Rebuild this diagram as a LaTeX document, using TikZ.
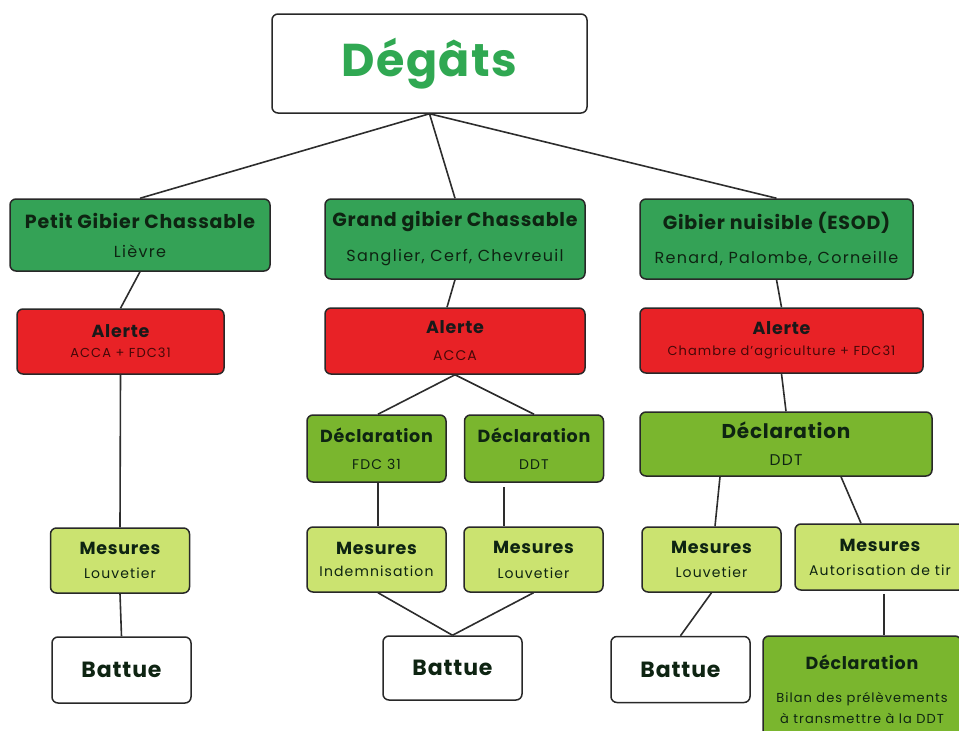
\documentclass[tikz,border=0pt]{standalone}
\usepackage{fontspec}
\setmainfont{Poppins}
\usetikzlibrary{positioning}
\definecolor{colCat}{RGB}{52,162,86}
\definecolor{colAlert}{RGB}{232,34,38}
\definecolor{colDecl}{RGB}{122,182,46}
\definecolor{colMes}{RGB}{203,227,112}
\definecolor{colBorder}{RGB}{40,40,40}
\definecolor{colLink}{RGB}{45,45,45}
\definecolor{colTitle}{RGB}{48,168,82}
\definecolor{colDark}{RGB}{14,36,18}
\definecolor{colRedText}{RGB}{70,8,8}
% fonts: bold titles, spaced sub lines
\newcommand{\catTitle}{\fontsize{19}{22}\selectfont\bfseries\addfontfeature{LetterSpace=4}}
\newcommand{\catSub}{\fontsize{16}{31}\selectfont\addfontfeature{LetterSpace=8}}
\newcommand{\boxTitle}{\fontsize{17.5}{20}\selectfont\bfseries\addfontfeature{LetterSpace=4}}
\newcommand{\boxSub}{\fontsize{14}{24}\selectfont\addfontfeature{LetterSpace=8}}
\newcommand{\smallSub}{\fontsize{13}{21}\selectfont\addfontfeature{LetterSpace=8}}
\newcommand{\battueFont}{\fontsize{22}{26}\selectfont\bfseries\addfontfeature{LetterSpace=4}}
\tikzset{
  box/.style={
    rectangle, rounded corners=6pt,
    draw=colBorder, line width=1.5pt,
    align=center, inner sep=2pt, text=colDark
  },
  catBox/.style={
    box, fill=colCat, font=\catSub,
    minimum width=260pt, minimum height=80pt
  },
  alertBox/.style={
    box, fill=colAlert, text=colRedText, font=\smallSub,
    minimum width=260pt, minimum height=66pt
  },
  declBox/.style={
    box, fill=colDecl, font=\boxSub,
    minimum width=139pt, minimum height=67pt
  },
  mesBox/.style={
    box, fill=colMes, font=\boxSub,
    minimum width=139pt, minimum height=65pt
  },
  endBox/.style={
    box, fill=white, font=\battueFont,
    minimum width=139pt, minimum height=66pt
  },
  link/.style={
    draw=colLink, line width=1.6pt
  }
}

\begin{document}
\begin{tikzpicture}[x=1pt, y=-1pt]
  \useasboundingbox (0,0) rectangle (959,731);

  % top
  \node[box, fill=white, minimum width=315pt, minimum height=99pt] (degats) at (429.5,63.5)
    {\fontsize{46}{50}\selectfont\bfseries\addfontfeature{LetterSpace=3}\color{colTitle}Dégâts};

  % categories
  \node[catBox, minimum height=72pt] (petit) at (140,235)
    {{\catTitle Petit Gibier Chassable}\\[-2pt]Lièvre};
  \node[catBox] (grand) at (455,239)
    {{\catTitle Grand gibier Chassable}\\[4pt]Sanglier, Cerf, Chevreuil};
  \node[catBox, minimum width=273pt] (nuisible) at (776.5,239)
    {{\catTitle Gibier nuisible (ESOD)}\\[3pt]Renard, Palombe, Corneille};

  % alerts
  \node[alertBox, minimum width=207pt, minimum height=65pt] (alerteA) at (120.5,341.5)
    {{\boxTitle\color{black!90} Alerte}\\[-1pt]ACCA + FDC31};
  \node[alertBox] (alerteB) at (455,341)
    {{\boxTitle\color{black!90} Alerte}\\[6pt]{\boxSub ACCA}};
  \node[alertBox, minimum width=283pt, minimum height=65pt] (alerteC) at (781.5,340.5)
    {{\boxTitle\color{black!90} Alerte}\\Chambre d'agriculture + FDC31};

  % declarations
  \node[declBox] (declFdc) at (376.5,448.5)
    {{\boxTitle Déclaration}\\[3pt]FDC 31};
  \node[declBox] (declDdt) at (534,448.5)
    {{\boxTitle Déclaration}\\[3pt]DDT};
  \node[declBox, minimum width=292pt, minimum height=64pt] (declEsod) at (786,444)
    {{\fontsize{20}{23}\selectfont\bfseries\addfontfeature{LetterSpace=4}Déclaration}\\[3pt]{\fontsize{15.5}{18}\selectfont DDT}};

  % measures
  \node[mesBox] (mesLouvA) at (120,560.5)
    {{\boxTitle Mesures}\\[0pt]Louvetier};
  \node[mesBox] (mesIndem) at (376.5,559.5)
    {{\boxTitle Mesures}\\[-2pt]Indemnisation};
  \node[mesBox] (mesLouvB) at (533.5,559.5)
    {{\boxTitle Mesures}\\[1pt]Louvetier};
  \node[mesBox] (mesLouvC) at (711.5,559.5)
    {{\boxTitle Mesures}\\[0pt]Louvetier};
  \node[mesBox, minimum width=170pt, minimum height=66pt] (mesTir) at (880,557)
    {{\boxTitle Mesures}\\[0pt]Autorisation de tir};

  % ends
  \node[endBox] (battueA) at (121.5,670) {Battue};
  \node[endBox, minimum height=64pt] (battueB) at (452.5,668) {Battue};
  \node[endBox] (battueC) at (680.5,669.5) {Battue};
  \node[declBox, font=\smallSub, minimum width=198pt, minimum height=106pt] (bilan) at (862,689)
    {{\boxTitle Déclaration}\\[12pt]Bilan des prélèvements\\à transmettre à la DDT};

  % links
  \draw[link] (degats.south) -- (petit.north);
  \draw[link] (degats.south) -- (grand.north);
  \draw[link] (degats.south) -- (nuisible.north);
  \draw[link] (petit.south) -- (alerteA.north);
  \draw[link] (grand.south) -- ([xshift=-8pt]alerteB.north);
  \draw[link] (nuisible.south) -- (alerteC.north);
  \draw[link] (alerteA.south) -- (mesLouvA.north);
  \draw[link] (alerteB.south) -- ([xshift=1.5pt]declFdc.north);
  \draw[link] (alerteB.south) -- (declDdt.north);
  \draw[link] (alerteC.south) -- (declEsod.north);
  \draw[link] ([xshift=1.5pt]declFdc.south) -- ([xshift=1.5pt]mesIndem.north);
  \draw[link] ([xshift=-30pt,yshift=-4pt]declDdt.south) -- ([xshift=-29.5pt]mesLouvB.north);
  \draw[link] ([xshift=-66pt]declEsod.south) -- ([xshift=3.5pt]mesLouvC.north);
  \draw[link] ([xshift=55pt]declEsod.south) -- ([xshift=-19pt]mesTir.north);
  \draw[link] (mesLouvA.south) -- (battueA.north);
  \draw[link] ([xshift=1.5pt]mesIndem.south) -- (battueB.north);
  \draw[link] (mesLouvB.south) -- (battueB.north);
  \draw[link] (mesLouvC.south) -- (battueC.north);
  \draw[link] ([xshift=4pt,yshift=-3pt]mesTir.south) -- ([xshift=22pt]bilan.north);
\end{tikzpicture}
\end{document}
